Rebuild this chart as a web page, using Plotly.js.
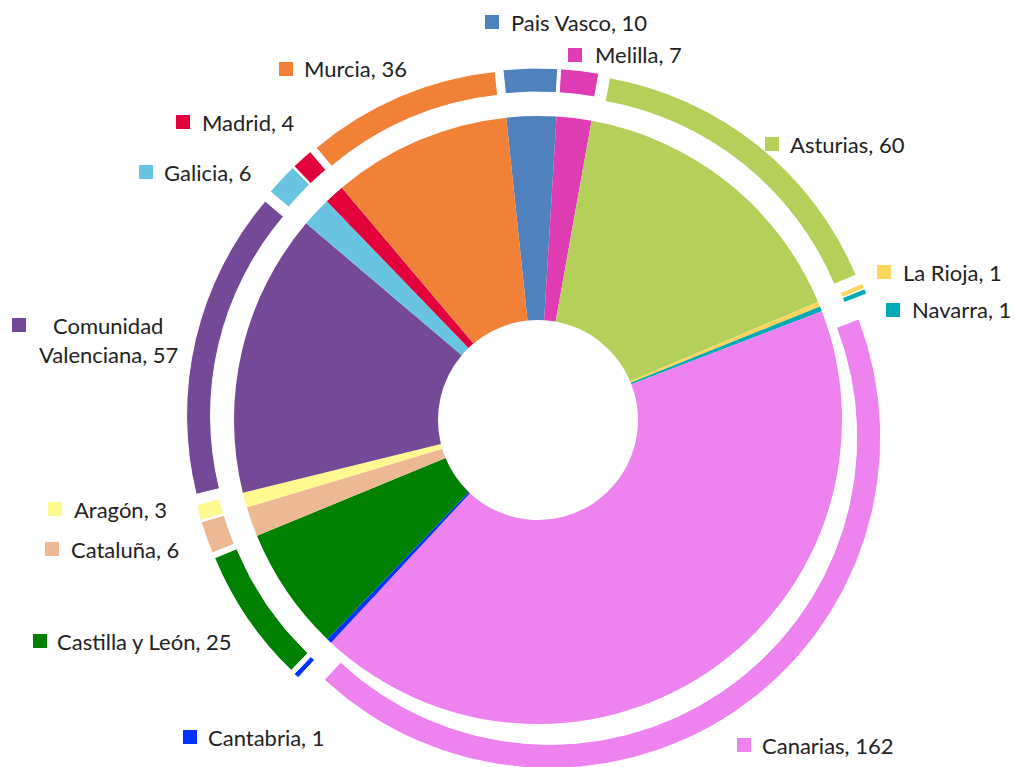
<!DOCTYPE html>
<html>
<head>
<meta charset="utf-8">
<script src="https://cdn.plot.ly/plotly-3.0.1.min.js"></script>
<style>
html,body{margin:0;padding:0;overflow:hidden;background:#fff;}
#chart{width:1015px;height:780px;}
</style>
</head>
<body>
<div id="chart"></div>
<script>
// ---- data ----
var regions = ["Pais Vasco","Melilla","Asturias","La Rioja","Navarra","Canarias","Cantabria","Castilla y León","Cataluña","Aragón","Comunidad Valenciana","Galicia","Madrid","Murcia"];
var counts  = [10, 7, 60, 1, 1, 162, 1, 25, 6, 3, 57, 6, 4, 36];
var colors  = ["#4F81BD","#DF3BB3","#B5CF5B","#FFD55F","#00A9B3","#EE82EE","#0033FF","#008000","#EDB995","#FFFA8F","#744A98","#68C4E0","#E2013B","#F08136"];

// ---- label placement (pixels, page coords) ----
var labelPos = [
  {sx:485, sy:15,  tx:509, ty:22},
  {sx:568, sy:48,  tx:593, ty:55},
  {sx:765, sy:137, tx:788, ty:144},
  {sx:877, sy:265, tx:901, ty:272},
  {sx:886, sy:303, tx:910, ty:310},
  {sx:737, sy:738, tx:760, ty:745},
  {sx:183, sy:730, tx:206, ty:737},
  {sx:33,  sy:634, tx:55,  ty:641},
  {sx:45,  sy:542, tx:69,  ty:549},
  {sx:48,  sy:502, tx:72,  ty:509},
  {sx:12,  sy:318, tx:108, ty:325, wrap:true, ty2:355},
  {sx:139, sy:165, tx:162, ty:172},
  {sx:176, sy:115, tx:200, ty:122},
  {sx:279, sy:62,  tx:302, ty:68}
];

var W = 1015, H = 780;
function px(x){ return x / W; }
function py(y){ return 1 - y / H; }

var cx = 538, cy = 420;
var rIn = 304, rHole = 100;
var rRingOut = 331, rRingIn = 307, pullPx = 21;
var pullFrac = pullPx / rRingOut;
var half = rRingOut * (1 + pullFrac);

var inner = {
  type: 'pie', values: counts, labels: regions, sort: false,
  direction: 'clockwise', rotation: -6,
  hole: rHole / rIn,
  marker: {colors: colors, line: {color: '#ffffff', width: 0}},
  textinfo: 'none', hoverinfo: 'label+value', showlegend: false,
  domain: {x: [px(cx - rIn), px(cx + rIn)], y: [py(cy + rIn), py(cy - rIn)]}
};
var outer = {
  type: 'pie', values: counts, labels: regions, sort: false,
  direction: 'clockwise', rotation: -6,
  hole: rRingIn / rRingOut, pull: pullFrac,
  marker: {colors: colors, line: {color: '#ffffff', width: 1}},
  textinfo: 'none', hoverinfo: 'label+value', showlegend: false,
  domain: {x: [px(cx - half), px(cx + half)], y: [py(cy + half), py(cy - half)]}
};

var font = {family: 'Lato, "Open Sans", sans-serif', size: 22, color: '#222222'};
var annotations = [], shapes = [];
var sq = 14;
for (var i = 0; i < regions.length; i++) {
  var p = labelPos[i];
  shapes.push({type: 'rect', xref: 'paper', yref: 'paper',
    x0: px(p.sx), x1: px(p.sx + sq), y0: py(p.sy + sq), y1: py(p.sy),
    fillcolor: colors[i], line: {width: 0}});
  if (p.wrap) {
    var sp = regions[i].indexOf(' ');
    annotations.push({xref:'paper', yref:'paper', x: px(p.tx), y: py(p.ty), xanchor:'center', yanchor:'middle',
      text: regions[i].slice(0, sp), showarrow:false, font: font});
    annotations.push({xref:'paper', yref:'paper', x: px(p.tx), y: py(p.ty2), xanchor:'center', yanchor:'middle',
      text: regions[i].slice(sp + 1) + ', ' + counts[i], showarrow:false, font: font});
  } else {
    annotations.push({xref:'paper', yref:'paper', x: px(p.tx), y: py(p.ty), xanchor:'left', yanchor:'middle',
      text: regions[i] + ', ' + counts[i], showarrow:false, font: font});
  }
}

var layout = {
  width: W, height: H,
  margin: {l:0, r:0, t:0, b:0},
  paper_bgcolor: '#ffffff', plot_bgcolor: '#ffffff',
  annotations: annotations, shapes: shapes, showlegend: false
};
Plotly.newPlot('chart', [inner, outer], layout, {displayModeBar: false, staticPlot: true});
</script>
</body>
</html>
